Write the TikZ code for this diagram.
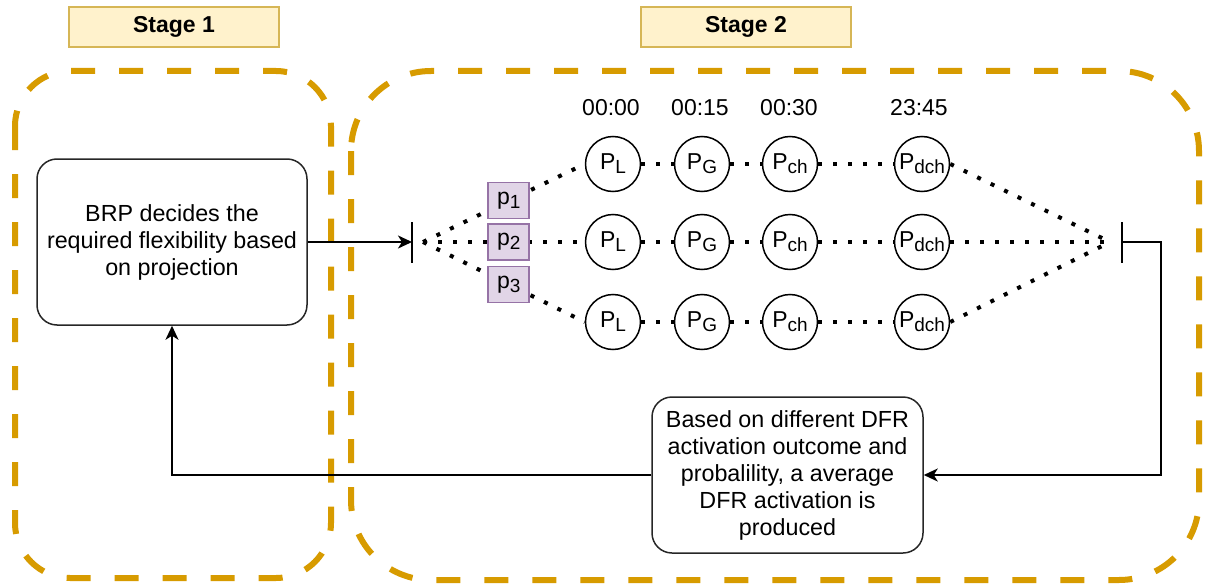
\documentclass[tikz,border=0pt]{standalone}
\usepackage{fontspec}
\setmainfont{Liberation Sans}
\usetikzlibrary{arrows.meta,shapes.geometric}
\definecolor{stageline}{HTML}{D79B00}
\definecolor{labelfill}{HTML}{FFF2CC}
\definecolor{labeldraw}{HTML}{D6B656}
\definecolor{pfill}{HTML}{E1D5E7}
\definecolor{pdraw}{HTML}{9673A6}
\newcommand{\sbs}[1]{\raisebox{-0.32ex}{\fontsize{19}{19}\selectfont #1}}
\begin{document}
\begin{tikzpicture}[x=1pt,y=-1pt,
  stagebox/.style={draw=stageline, line width=6pt, dash pattern=on 24pt off 24pt},
  stagelabel/.style={draw=labeldraw, fill=labelfill, line width=1.5pt, minimum width=210pt, minimum height=40pt, inner sep=0pt, font=\fontsize{23}{27}\selectfont\bfseries},
  procbox/.style={draw=black!85, line width=1.5pt, rounded corners=20pt, align=center, inner sep=0pt, font=\fontsize{23.3}{27}\selectfont},
  pnode/.style={circle, draw, solid, line width=1.5pt, minimum size=55pt, inner sep=0pt, font=\fontsize{23}{27}\selectfont},
  timelabel/.style={inner sep=0pt, font=\fontsize{23}{27}\selectfont},
  probbox/.style={draw=pdraw, fill=pfill, solid, line width=1.5pt, minimum width=41pt, minimum height=36pt, inner sep=0pt, font=\fontsize{23}{27}\selectfont},
  dotline/.style={line width=4pt, dash pattern=on 4pt off 11pt},
  conn/.style={line width=2pt},
  tip/.style={-{Stealth[length=14pt,width=13pt,inset=4pt]}},
  bar/.style={line width=2.5pt}
]
\useasboundingbox (0,0) rectangle (1205,586);

% stage frames
\draw[stagebox, rounded corners=55pt] (15,71) rectangle (331,578);
\draw[stagebox, rounded corners=80pt] (351,71) rectangle (1199,580);

% stage labels
\node[stagelabel] (s1) at (174,27) {Stage 1};
\node[stagelabel] (s2) at (746,27) {Stage 2};

% process boxes
\node[procbox, minimum width=270pt, minimum height=166pt] (brp) at (172,242)
  {BRP decides the\\required flexibility based\\on projection};
\node[procbox, minimum width=271pt, minimum height=156pt] (res) at (787.5,475)
  {Based on different DFR\\activation outcome and\\probalility, a average\\DFR activation is\\produced};

% bars and convergence points
\coordinate (lbar) at (412,242);
\coordinate (rbar) at (1122,242);
\coordinate (lconv) at (423,242);
\coordinate (rconv) at (1110,242);
\coordinate (lbartop) at (412,222);
\coordinate (lbarbot) at (412,263);
\coordinate (rbartop) at (1122,222);
\coordinate (rbarbot) at (1122,263);
\coordinate (rturn) at (1161,242);
\draw[bar] (lbartop) -- (lbarbot);
\draw[bar] (rbartop) -- (rbarbot);

% time labels
\node[timelabel] (t1) at (611,108) {00:00};
\node[timelabel] (t2) at (700,108) {00:15};
\node[timelabel] (t3) at (789,108) {00:30};
\node[timelabel] (t4) at (919,108) {23:45};

% rows
\foreach \r/\y in {1/164,2/242,3/322} {
  \node[pnode] (L\r) at (613,\y) {P\sbs{L}};
  \node[pnode] (G\r) at (702,\y) {P\sbs{G}};
  \node[pnode] (ch\r) at (790,\y) {P\sbs{ch}};
  \node[pnode] (dch\r) at (922,\y) {P\sbs{dch}};
  \draw[dotline] (lconv) -- node[probbox, pos=0.53] (p\r) {p\sbs{\r}} (L\r.west);
  \draw[dotline] (L\r.east) -- (G\r.west);
  \draw[dotline] (G\r.east) -- (ch\r.west);
  \draw[dotline] (ch\r.east) -- (dch\r.west);
  \draw[dotline] (dch\r.east) -- (rconv);
}

% connectors
\draw[conn, tip] (brp.east) -- (lbar);
\draw[conn, tip] (rbar) -- (rturn) |- (res.east);
\draw[conn, tip] (res.west) -| (brp.south);
\end{tikzpicture}
\end{document}
